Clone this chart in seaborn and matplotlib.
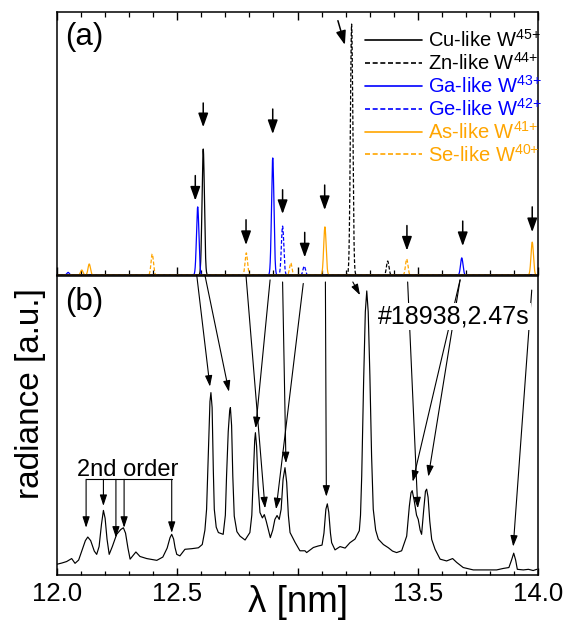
import numpy as np
import pandas as pd
import matplotlib
matplotlib.use("Agg")
import matplotlib.pyplot as plt
import seaborn as sns
from matplotlib.lines import Line2D
from matplotlib.ticker import MultipleLocator

# ---------------- data ----------------
# Panel (a): modelled line positions [nm] and relative intensities
cu_lam = [12.608]
cu_int = [0.479]
zn_lam = [13.225, 13.375]
zn_int = [0.954, 0.053]
ga_lam = [12.046, 12.585, 12.897, 13.683]
ga_int = [0.010, 0.259, 0.445, 0.065]
ge_lam = [12.938, 13.028]
ge_int = [0.186, 0.034]
as_lam = [12.103, 12.134, 13.114, 13.976]
as_int = [0.019, 0.042, 0.183, 0.125]
se_lam = [12.396, 12.787, 12.972, 13.454]
se_int = [0.080, 0.084, 0.046, 0.061]

series_labels = ["Cu-like W$^{45{+}}$", "Zn-like W$^{44{+}}$", "Ga-like W$^{43{+}}$",
                 "Ge-like W$^{42{+}}$", "As-like W$^{41{+}}$", "Se-like W$^{40{+}}$"]

# Panel (b): measured spectrum (#18938, 2.47 s)
lam_b = [12.000, 12.020, 12.040, 12.061, 12.075, 12.090, 12.105, 12.118, 12.128, 12.140,
         12.155, 12.165, 12.175, 12.185, 12.193, 12.200, 12.208, 12.217, 12.230, 12.248,
         12.265, 12.276, 12.285, 12.295, 12.304, 12.316, 12.328, 12.345, 12.373, 12.395,
         12.415, 12.440, 12.458, 12.470, 12.477, 12.485, 12.491, 12.498, 12.511, 12.532,
         12.560, 12.588, 12.604, 12.615, 12.622, 12.630, 12.636, 12.640, 12.645, 12.650,
         12.654, 12.662, 12.671, 12.691, 12.700, 12.705, 12.712, 12.718, 12.721, 12.726,
         12.731, 12.737, 12.748, 12.761, 12.782, 12.802, 12.810, 12.816, 12.822, 12.825,
         12.830, 12.836, 12.844, 12.854, 12.862, 12.870, 12.887, 12.897, 12.906, 12.915,
         12.924, 12.932, 12.940, 12.948, 12.955, 12.962, 12.969, 12.990, 13.010, 13.031,
         13.038, 13.066, 13.086, 13.102, 13.110, 13.118, 13.124, 13.130, 13.137, 13.142,
         13.156, 13.177, 13.198, 13.218, 13.239, 13.257, 13.262, 13.267, 13.275, 13.282,
         13.288, 13.294, 13.301, 13.308, 13.315, 13.325, 13.336, 13.357, 13.378, 13.395,
         13.412, 13.433, 13.454, 13.465, 13.472, 13.477, 13.485, 13.495, 13.502, 13.510,
         13.516, 13.525, 13.532, 13.537, 13.543, 13.550, 13.558, 13.572, 13.593, 13.620,
         13.645, 13.662, 13.689, 13.731, 13.787, 13.828, 13.856, 13.879, 13.890, 13.899,
         13.907, 13.914, 13.939, 13.960, 13.980, 13.995]
rad_b = [0.036, 0.040, 0.045, 0.055, 0.039, 0.050, 0.085, 0.115, 0.127, 0.115,
         0.080, 0.069, 0.095, 0.170, 0.216, 0.190, 0.120, 0.069, 0.095, 0.136,
         0.152, 0.158, 0.140, 0.090, 0.053, 0.065, 0.077, 0.062, 0.055, 0.052,
         0.049, 0.060, 0.090, 0.125, 0.136, 0.120, 0.091, 0.069, 0.064, 0.086,
         0.088, 0.091, 0.102, 0.150, 0.220, 0.420, 0.580, 0.610, 0.560, 0.350,
         0.220, 0.160, 0.142, 0.136, 0.200, 0.331, 0.480, 0.550, 0.560, 0.500,
         0.330, 0.197, 0.145, 0.130, 0.117, 0.142, 0.200, 0.330, 0.450, 0.476,
         0.430, 0.300, 0.209, 0.191, 0.202, 0.180, 0.125, 0.150, 0.186, 0.199,
         0.186, 0.220, 0.320, 0.359, 0.310, 0.200, 0.142, 0.109, 0.081, 0.081,
         0.075, 0.092, 0.097, 0.100, 0.140, 0.220, 0.238, 0.210, 0.140, 0.108,
         0.084, 0.095, 0.090, 0.108, 0.120, 0.148, 0.200, 0.331, 0.650, 0.880,
         0.950, 0.880, 0.666, 0.400, 0.220, 0.150, 0.120, 0.102, 0.091, 0.080,
         0.075, 0.081, 0.130, 0.230, 0.275, 0.282, 0.250, 0.200, 0.186, 0.150,
         0.136, 0.220, 0.280, 0.287, 0.260, 0.180, 0.119, 0.086, 0.053, 0.047,
         0.055, 0.042, 0.025, 0.017, 0.017, 0.017, 0.022, 0.025, 0.050, 0.073,
         0.050, 0.019, 0.017, 0.019, 0.015, 0.019]

# x tick labels (13.0 is left blank: the axis title sits there)
xtick_vals = [12.0, 12.5, 13.0, 13.5, 14.0]
xtick_labels = ["12.0", "12.5", "", "13.5", "14.0"]

# Arrows in panel (a): wavelength, tail height, tip height
arr_a_lam = [12.575, 12.608, 12.786, 12.897, 12.938, 13.030, 13.113, 13.455, 13.687, 13.976]
arr_a_tail = [0.378, 0.654, 0.210, 0.631, 0.324, 0.162, 0.342, 0.188, 0.205, 0.259]
arr_a_tip = [0.283, 0.562, 0.114, 0.536, 0.232, 0.067, 0.247, 0.093, 0.110, 0.163]

# Connecting arrows: start (panel a line) -> end (measured peak in panel b)
conn_start_lam = [12.581, 12.615, 12.786, 12.886, 12.938, 13.024, 13.116, 13.230, 13.458, 13.676, 13.676, 13.974]
conn_start_y = [1.003, 1.003, 1.000, 0.987, 0.980, 0.975, 0.980, 0.980, 0.980, 0.987, 0.987, 0.953]
conn_end_lam = [12.636, 12.715, 12.865, 12.826, 12.952, 12.911, 13.120, 13.260, 13.500, 13.479, 13.544, 13.897]
conn_end_y = [0.630, 0.613, 0.223, 0.491, 0.374, 0.220, 0.262, 0.936, 0.223, 0.312, 0.329, 0.095]

# 2nd-order lines
order2_lam = [12.121, 12.193, 12.245, 12.279, 12.477]
order2_tip = [0.158, 0.231, 0.125, 0.158, 0.141]

# ---------------- style ----------------
sns.set_theme(style="ticks")
plt.rcParams["font.family"] = ["Liberation Sans", "DejaVu Sans"]
plt.rcParams["mathtext.default"] = "regular"
plt.rcParams["axes.linewidth"] = 1.1
plt.rcParams["axes.edgecolor"] = "black"
plt.rcParams["text.color"] = "black"
plt.rcParams["xtick.color"] = "black"
plt.rcParams["ytick.color"] = "black"
plt.rcParams["axes.labelcolor"] = "black"

BLUE = "#0000ff"
ORANGE = "#ffa500"
colors = ["black", "black", BLUE, BLUE, ORANGE, ORANGE]
dashed = (0, (3, 1.6))
styles = ["-", dashed, "-", dashed, "-", dashed]

fig = plt.figure(figsize=(5.67, 6.22), dpi=100)
L, R = 57 / 567, 538 / 567
axa = fig.add_axes([L, 1 - 275 / 622, R - L, 263 / 622])
axb = fig.add_axes([L, 1 - 575 / 622, R - L, 299 / 622])

# ---------------- panel (a) ----------------
grid = np.linspace(12.0, 14.0, 4001)
sigma = 0.005
all_lam = [cu_lam, zn_lam, ga_lam, ge_lam, as_lam, se_lam]
all_int = [cu_int, zn_int, ga_int, ge_int, as_int, se_int]
for lams, ints, c, ls in zip(all_lam, all_int, colors, styles):
    prof = np.zeros_like(grid)
    for l0, h in zip(lams, ints):
        prof += h * np.exp(-0.5 * ((grid - l0) / sigma) ** 2)
    sns.lineplot(x=grid, y=prof, color=c, linestyle=ls, lw=0.9, ax=axa,
                 estimator=None, sort=False)

axa.set_xlim(12.0, 14.0)
axa.set_ylim(0.0, 1.0)
axa.set_yticks([])
axa.set_xlabel("")
axa.set_ylabel("")

for l0, t0, t1 in zip(arr_a_lam, arr_a_tail, arr_a_tip):
    axa.annotate("", xy=(l0, t1), xytext=(l0, t0),
                 arrowprops=dict(arrowstyle="-|>,head_length=0.7,head_width=0.25",
                                 color="black", lw=1.1, shrinkA=0, shrinkB=0))
axa.annotate("", xy=(13.197, 0.875), xytext=(13.168, 0.967),
             arrowprops=dict(arrowstyle="-|>,head_length=0.7,head_width=0.25",
                             color="black", lw=1.1, shrinkA=0, shrinkB=0))

axa.text(0.017, 0.905, "(a)", transform=axa.transAxes, fontsize=22.5,
         ha="left", va="center")

handles = [Line2D([], [], color=c, linestyle=ls, lw=1.2) for c, ls in zip(colors, styles)]
leg = axa.legend(handles, series_labels, loc="upper left", bbox_to_anchor=(0.640, 0.935),
                 frameon=False, fontsize=14.5, handlelength=2.85, handletextpad=0.3,
                 labelspacing=0.05, borderpad=0, borderaxespad=0)
for txt, c in zip(leg.get_texts(), colors):
    txt.set_color(c)

# ---------------- panel (b) ----------------
sns.lineplot(x=lam_b, y=rad_b, color="black", lw=0.85, ax=axb, estimator=None, sort=False)
axb.set_xlim(12.0, 14.0)
axb.set_ylim(0.0, 1.0)
axb.set_yticks([])
axb.set_xlabel("")
axb.set_ylabel("")
axb.text(0.017, 0.914, "(b)", transform=axb.transAxes, fontsize=22.5,
         ha="left", va="center")

for xs, ys, xe, ye in zip(conn_start_lam, conn_start_y, conn_end_lam, conn_end_y):
    axb.annotate("", xy=(xe, ye), xytext=(xs, ys), annotation_clip=False,
                 arrowprops=dict(arrowstyle="-|>,head_length=0.55,head_width=0.18",
                                 color="black", lw=0.8, shrinkA=0, shrinkB=0))

axb.text(13.649, 0.866, "#18938,2.47s", fontsize=18, ha="center", va="center",
         zorder=10, bbox=dict(facecolor="white", edgecolor="none", pad=1.0))

axb.plot([order2_lam[0], order2_lam[-1]], [0.320, 0.320], color="black", lw=0.8)
for l0, tip in zip(order2_lam, order2_tip):
    axb.annotate("", xy=(l0, tip), xytext=(l0, 0.320),
                 arrowprops=dict(arrowstyle="-|>,head_length=0.55,head_width=0.18",
                                 color="black", lw=0.8, shrinkA=0, shrinkB=0))
axb.text(12.293, 0.331, "2nd order", fontsize=17, ha="center", va="baseline")

# ---------------- ticks ----------------
for ax in (axa, axb):
    ax.set_xticks(xtick_vals)
    ax.xaxis.set_minor_locator(MultipleLocator(0.1))
axa.tick_params(axis="x", which="both", direction="in", top=True, bottom=True,
                labelbottom=False, color="black")
axa.tick_params(axis="x", which="major", length=6, width=1.0)
axa.tick_params(axis="x", which="minor", length=3.5, width=0.9)
axb.set_xticklabels(xtick_labels)
axb.tick_params(axis="x", which="both", direction="in", top=False, bottom=True,
                labelsize=18.5, pad=5, color="black", labelcolor="black")
axb.tick_params(axis="x", which="major", length=5, width=1.0)
axb.tick_params(axis="x", which="minor", length=3, width=0.9)

fig.text(298 / 567, 1 - 612 / 622, "λ [nm]", fontsize=26.5, ha="center", va="baseline")
fig.text(31 / 567, 1 - 394 / 622, "radiance [a.u.]", fontsize=24, rotation=90,
         ha="center", va="center")

fig.savefig("out.png", dpi=100)
